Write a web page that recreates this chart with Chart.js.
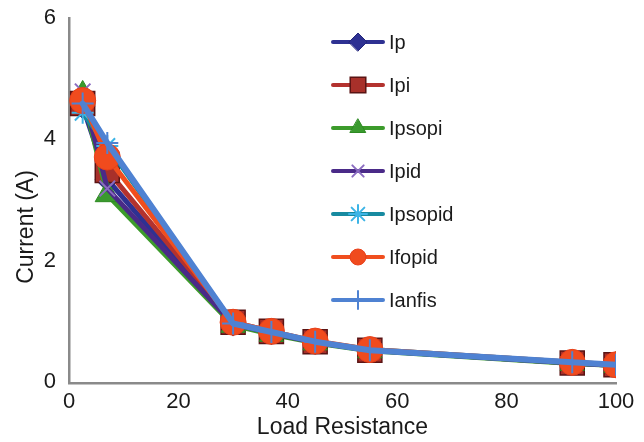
<!DOCTYPE html>
<html><head><meta charset="utf-8">
<script src="https://cdn.jsdelivr.net/npm/chart.js@4.4.1/dist/chart.umd.min.js"></script>
<style>html,body{margin:0;padding:0;background:#fff}#wrap{width:644px;height:442px}</style>
</head><body><div id="wrap"><canvas id="c" width="644" height="442"></canvas></div>
<script>
// ---- data ----
const loadResistance = [2.5, 7, 30, 37, 45, 55, 92, 100];
const Ip      = [4.55, 3.35, 0.97, 0.83, 0.67, 0.54, 0.33, 0.29];
const Ipi     = [4.60, 3.50, 1.00, 0.85, 0.68, 0.54, 0.33, 0.30];
const Ipsopi  = [4.75, 3.10, 0.95, 0.80, 0.66, 0.53, 0.32, 0.29];
const Ipid    = [4.80, 3.20, 0.97, 0.82, 0.67, 0.54, 0.33, 0.29];
const Ipsopid = [4.45, 3.90, 0.98, 0.84, 0.68, 0.55, 0.34, 0.30];
const Ifopid  = [4.65, 3.72, 1.00, 0.85, 0.69, 0.55, 0.34, 0.30];
const Ianfis  = [4.60, 3.95, 0.98, 0.84, 0.68, 0.54, 0.34, 0.30];
const seriesNames = ['Ip', 'Ipi', 'Ipsopi', 'Ipid', 'Ipsopid', 'Ifopid', 'Ianfis'];
const xTicks = [0, 20, 40, 60, 80, 100];
const yTicks = [0, 2, 4, 6];
const xTitle = 'Load Resistance';
const yTitle = 'Current (A)';

// ---- styles ----
const FONT = '"Liberation Sans", Arial, sans-serif';
const seriesValues = [Ip, Ipi, Ipsopi, Ipid, Ipsopid, Ifopid, Ianfis];
const styles = [
  {line:'#2e3192', fill:'#2e3192', border:'#23267a', ps:'rectRot', r:12, lr:9, bw:1, lw:5},
  {line:'#b3322e', fill:'#a8302a', border:'#5a1414', ps:'rect', r:17, lr:11, bw:1.5, lw:5},
  {line:'#3c9b2b', fill:'#3a9a2e', border:'#2d8a22', ps:'triangle', r:14, lr:9, bw:1, lw:5},
  {line:'#4a2a88', fill:'#8a6cc0', border:'#8a6cc0', ps:'crossRot', r:11, lr:8, bw:2, lw:5},
  {line:'#178aa0', fill:'#3cb4e6', border:'#3cb4e6', ps:'star', r:11, lr:9, bw:2, lw:5},
  {line:'#f04e1e', fill:'#f04b1e', border:'#e8401a', ps:'circle', r:13, lr:8, bw:1, lw:5},
  {line:'#4f82d2', fill:'#4f82d2', border:'#4f82d2', ps:'cross', r:11, lr:9, bw:2, lw:6}
];

const datasets = seriesNames.map((name, i) => {
  const s = styles[i];
  return {
    label: name,
    data: loadResistance.map((x, k) => ({x: x, y: seriesValues[i][k]})),
    borderColor: s.line,
    borderWidth: s.lw,
    borderJoinStyle: 'round',
    borderCapStyle: 'round',
    pointStyle: s.ps,
    pointRadius: s.r,
    pointHoverRadius: s.r,
    pointBackgroundColor: s.fill,
    pointBorderColor: s.border,
    pointBorderWidth: s.bw,
    legendRadius: s.lr,
    tension: 0,
    fill: false,
    order: seriesNames.length - i
  };
});

const lineLegend = {
  id: 'lineLegend',
  afterDraw(chart) {
    const ctx = chart.ctx;
    const x0 = 333, x1 = 383, tx = 389, y0 = 42, dy = 43;
    chart.data.datasets.forEach((ds, i) => {
      const y = y0 + i * dy;
      ctx.save();
      ctx.strokeStyle = ds.borderColor;
      ctx.lineWidth = 4;
      ctx.lineCap = 'round';
      ctx.beginPath(); ctx.moveTo(x0, y); ctx.lineTo(x1, y); ctx.stroke();
      ctx.fillStyle = ds.pointBackgroundColor;
      ctx.strokeStyle = ds.pointBorderColor;
      ctx.lineWidth = ds.pointBorderWidth;
      Chart.helpers.drawPoint(ctx, {pointStyle: ds.pointStyle, radius: ds.legendRadius, borderWidth: ds.pointBorderWidth, rotation: 0}, (x0 + x1) / 2, y);
      ctx.fillStyle = '#1a1a1a';
      ctx.font = '20px ' + FONT;
      ctx.textBaseline = 'middle';
      ctx.textAlign = 'left';
      ctx.fillText(ds.label, tx, y + 1);
      ctx.restore();
    });
    // y-axis title
    ctx.save();
    ctx.translate(27, 227);
    ctx.rotate(-Math.PI / 2);
    ctx.fillStyle = '#1a1a1a';
    ctx.font = '23px ' + FONT;
    ctx.textAlign = 'center';
    ctx.textBaseline = 'middle';
    ctx.fillText(yTitle, 0, 0);
    ctx.restore();
  }
};

new Chart(document.getElementById('c'), {
  type: 'line',
  data: {datasets: datasets},
  plugins: [lineLegend],
  options: {
    responsive: false,
    devicePixelRatio: 1,
    animation: false,
    layout: {padding: {left: 0, right: 28, top: 17, bottom: 0}},
    plugins: {legend: {display: false}, tooltip: {enabled: false}},
    scales: {
      x: {
        type: 'linear', min: 0, max: 100,
        afterBuildTicks: s => { s.ticks = xTicks.map(v => ({value: v})); },
        afterFit: s => { s.height = 59; },
        grid: {display: false},
        border: {display: true, color: '#8a8a8a', width: 2.5},
        ticks: {color: '#1a1a1a', font: {family: FONT, size: 22}, padding: -2, maxRotation: 0, autoSkip: false},
        title: {display: true, text: xTitle, color: '#1a1a1a', font: {family: FONT, size: 23}, padding: {top: 0, bottom: 1}}
      },
      y: {
        type: 'linear', min: 0, max: 6,
        afterBuildTicks: s => { s.ticks = yTicks.map(v => ({value: v})); },
        afterFit: s => { s.width = 69; },
        grid: {display: false},
        border: {display: true, color: '#8a8a8a', width: 2.5},
        ticks: {color: '#1a1a1a', font: {family: FONT, size: 22}, padding: 5, labelOffset: -1},
        title: {display: false, text: yTitle}
      }
    }
  }
});
</script>
</body></html>
